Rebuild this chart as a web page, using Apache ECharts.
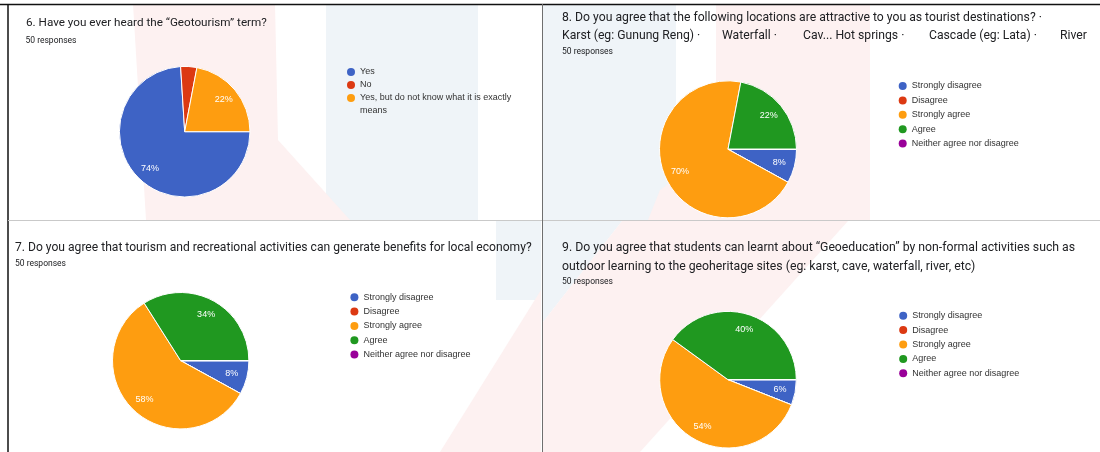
<!DOCTYPE html>
<html>
<head>
<meta charset="utf-8">
<script src="https://cdn.jsdelivr.net/npm/echarts@6/dist/echarts.min.js"></script>
<style>
  html, body { margin: 0; padding: 0; background: #fff; }
  #chart { width: 1100px; height: 452px; }
</style>
</head>
<body>
<div id="chart"></div>
<script>
// Survey summary: four questions, 50 responses each
const responseLabel = '50 responses';

const q6Title = '6. Have you ever heard the \u201cGeotourism\u201d term?';
const q6Answers = ['Yes', 'No', 'Yes, but do not know what it is exactly means'];
const q6Counts = [37, 2, 11];

const agreeScale = ['Strongly disagree', 'Disagree', 'Strongly agree', 'Agree', 'Neither agree nor disagree'];

const q7Title = '7. Do you agree that tourism and recreational activities can generate benefits for local economy?';
const q7Counts = [4, 0, 29, 17, 0];

const q8Title = '8. Do you agree that the following locations are attractive to you as tourist destinations? \u00b7';
const q8Locations = ['Karst (eg: Gunung Reng) \u00b7', 'Waterfall \u00b7', 'Cav... Hot springs \u00b7', 'Cascade (eg: Lata) \u00b7', 'River'];
const q8Counts = [4, 0, 35, 11, 0];

const q9TitleLines = [
  '9. Do you agree that students can learnt about \u201cGeoeducation\u201d by non-formal activities such as',
  'outdoor learning to the geoheritage sites (eg: karst, cave, waterfall, river, etc)'
];
const q9Counts = [3, 0, 27, 20, 0];

// Google-forms style palette
const BLUE = '#3e63c5', RED = '#dc3912', ORANGE = '#fe9d10', GREEN = '#209820', PURPLE = '#990099';
const q6Colors = [BLUE, RED, ORANGE];
const agreeColors = [BLUE, RED, ORANGE, GREEN, PURPLE];

const TITLE_FONT = 'Roboto, "Liberation Sans", Arial, sans-serif';
const CHART_FONT = '"Liberation Sans", Arial, sans-serif';

function pieSeries(names, counts, colors, center, r) {
  const solid = names.map((n, i) => ({ name: n, value: counts[i], itemStyle: { color: colors[i] } }));
  const ghost = names.map((n, i) => ({ name: n, value: counts[i] }));
  return [
    {
      type: 'pie', center: center, radius: [0, r], startAngle: 0, clockwise: true,
      data: solid, silent: true, animation: false, avoidLabelOverlap: false,
      label: { show: false }, labelLine: { show: false },
      itemStyle: { borderColor: '#ffffff', borderWidth: 1 }, z: 2
    },
    {
      // transparent ring that carries the percentage labels further out
      type: 'pie', center: center, radius: [r * 0.46, r], startAngle: 0, clockwise: true,
      data: ghost, silent: true, animation: false, avoidLabelOverlap: false,
      itemStyle: { color: 'rgba(0,0,0,0)', borderWidth: 0 },
      label: {
        show: true, position: 'inside', color: '#ffffff',
        fontFamily: CHART_FONT, fontSize: 9,
        formatter: p => (p.percent >= 5 ? Math.round(p.percent) + '%' : '')
      },
      labelLine: { show: false }, z: 3
    }
  ];
}

function legendBox(names, left, top, gap, extra) {
  return Object.assign({
    orient: 'vertical', left: left, top: top, padding: 0,
    itemWidth: 8, itemHeight: 9, itemGap: gap, icon: 'circle',
    itemStyle: { borderWidth: 0 },
    selectedMode: false, data: names,
    textStyle: { fontFamily: CHART_FONT, fontSize: 9, color: '#333333', lineHeight: 13 }
  }, extra || {});
}

function txt(x, y, text, size, color, font) {
  return {
    type: 'text', x: x, y: y, silent: true, z: 10,
    style: { text: text, fill: color || '#202124', font: size + 'px ' + (font || TITLE_FONT), verticalAlign: 'middle', align: 'left' }
  };
}

const WM_RED = '#fdf1f1', WM_BLUE = '#eff4f8';
function poly(points, fill) {
  return { type: 'polygon', silent: true, z: -5, shape: { points: points }, style: { fill: fill } };
}

const graphics = [
  // faint background marks
  poly([[326, 4], [478, 4], [478, 220], [326, 220]], WM_BLUE),
  poly([[133, 4], [275, 4], [278, 140], [350, 220], [146, 220]], WM_RED),
  poly([[543, 4], [676, 4], [676, 220], [543, 220]], WM_BLUE),
  poly([[716, 4], [870, 4], [870, 220], [648, 220], [660, 190], [716, 150]], WM_RED),
  poly([[543, 221], [622, 221], [543, 322]], WM_BLUE),
  poly([[622, 221], [848, 221], [640, 452], [543, 452], [543, 322]], WM_RED),
  poly([[496, 221], [541, 221], [541, 300], [496, 300]], WM_BLUE),
  poly([[541, 290], [541, 452], [440, 452]], WM_RED),

  // frame and dividers
  { type: 'line', silent: true, z: 20, shape: { x1: 0, y1: 4.5, x2: 1100, y2: 4.5 }, style: { stroke: '#111', lineWidth: 1.5 } },
  { type: 'line', silent: true, z: 20, shape: { x1: 8, y1: 4, x2: 8, y2: 452 }, style: { stroke: '#111', lineWidth: 1.5 } },
  { type: 'line', silent: true, z: 20, shape: { x1: 8, y1: 220.5, x2: 1100, y2: 220.5 }, style: { stroke: '#c9c9c9', lineWidth: 1 } },
  { type: 'line', silent: true, z: 20, shape: { x1: 542.5, y1: 4, x2: 542.5, y2: 452 }, style: { stroke: '#6f6f6f', lineWidth: 1 } },

  // question texts
  txt(26, 23, q6Title, 11.7),
  txt(25.5, 40.5, responseLabel, 8.5),
  txt(15, 248, q7Title, 12.1),
  txt(15, 263.5, responseLabel, 8.5),
  txt(562, 17.5, q8Title, 12.2),
  txt(562, 36, q8Locations[0], 12.2),
  txt(722, 36, q8Locations[1], 12.2),
  txt(803, 36, q8Locations[2], 12.2),
  txt(929, 36, q8Locations[3], 12.2),
  txt(1060, 36, q8Locations[4], 12.2),
  txt(562, 51.5, responseLabel, 8.5),
  txt(562, 248, q9TitleLines[0], 12.25),
  txt(562, 266.5, q9TitleLines[1], 12.25),
  txt(562, 281.5, responseLabel, 8.5)
];

const chart = echarts.init(document.getElementById('chart'), null, { renderer: 'canvas' });
chart.setOption({
  backgroundColor: '#ffffff',
  animation: false,
  graphic: graphics,
  legend: [
    legendBox(q6Answers.slice(0, 2), 347, 65.5, 0),
    // long answer wraps onto a second line; the leading blank line keeps its first line level with the dot
    legendBox([q6Answers[2]], 347, 78.5, 0, {
      formatter: n => '\n' + n.replace(' exactly ', ' exactly\n')
    }),
    legendBox(agreeScale, 898.7, 79.5, 1.4),
    legendBox(agreeScale, 350.4, 290.8, 1.3),
    legendBox(agreeScale, 899.2, 309.2, 1.4)
  ],
  series: [].concat(
    pieSeries(q6Answers, q6Counts, q6Colors, [184.7, 131.7], 65.3),
    pieSeries(agreeScale, q8Counts, agreeColors, [728, 149.3], 68.5),
    pieSeries(agreeScale, q7Counts, agreeColors, [180.7, 360.7], 68.2),
    pieSeries(agreeScale, q9Counts, agreeColors, [728, 379.7], 68.3)
  )
});
</script>
</body>
</html>
